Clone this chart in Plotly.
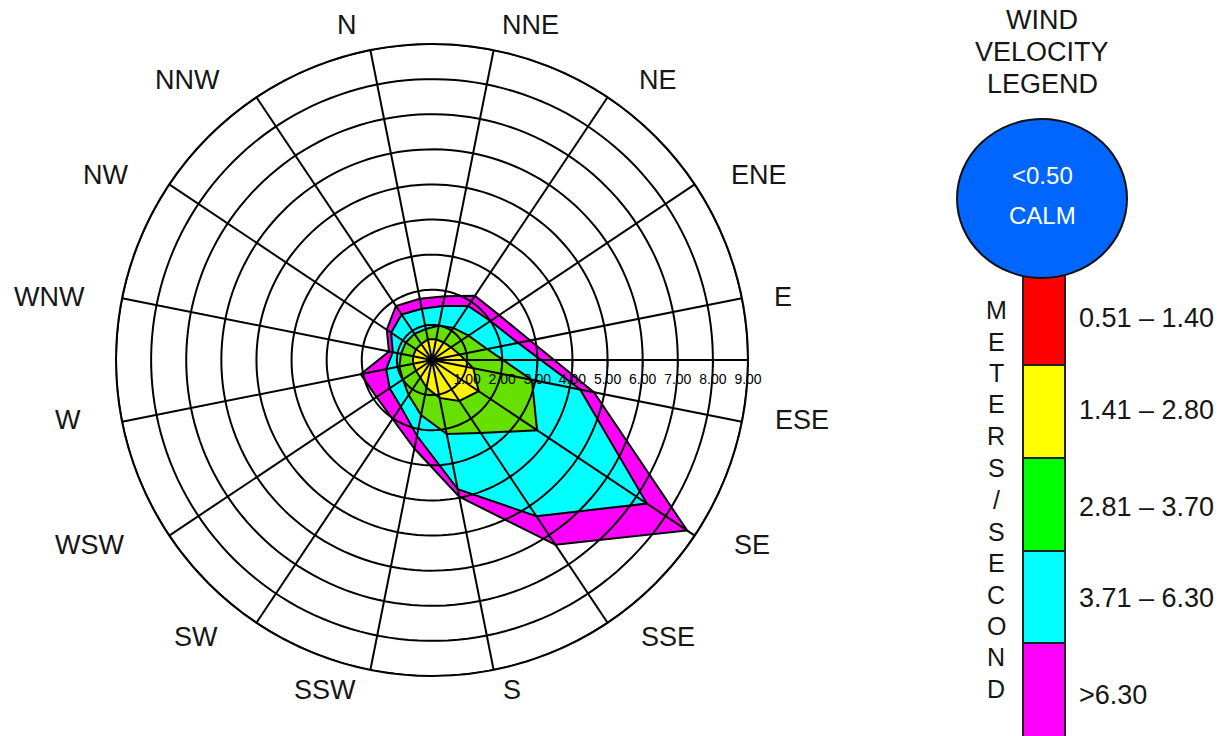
import numpy as np
import plotly.graph_objects as go

W, H = 1226, 736
OFF = 0  # page body margin removed by post_script below

directions = ["N", "NNE", "NE", "ENE", "E", "ESE", "SE", "SSE",
              "S", "SSW", "SW", "WSW", "W", "WNW", "NW", "NNW"]

# frequency (%) of each speed class per direction (stacked)
f_051_140 = [0.10] * 16
f_141_280 = [0.50, 0.50, 0.50, 0.55, 0.70, 1.10, 1.50, 1.30, 1.00, 0.70, 0.50, 0.45, 0.45, 0.45, 0.45, 0.45]
f_281_370 = [0.30, 0.40, 0.50, 0.60, 0.80, 1.70, 2.00, 1.10, 1.05, 0.80, 0.60, 0.45, 0.40, 0.35, 0.35, 0.35]
f_371_630 = [0.59, 0.57, 0.75, 0.75, 0.90, 1.40, 3.76, 2.85, 1.60, 0.60, 0.40, 0.45, 0.38, 0.24, 0.50, 0.66]
f_gt_630 = [0.29, 0.28, 0.35, 0.30, 0.35, 0.40, 1.38, 0.98, 0.22, 0.37, 0.42, 0.45, 0.74, 0.11, 0.15, 0.29]

class_labels = ["0.51 \u2013 1.40", "1.41 \u2013 2.80", "2.81 \u2013 3.70", "3.71 \u2013 6.30", ">6.30"]
legend_colors = ["#FF0000", "#FFFF00", "#00FF00", "#00FFFF", "#FF00FF"]
rose_colors = ["#FF0000", "#FFF200", "#66E000", "#00FFFF", "#FF00FF"]
ring_values = [1, 2, 3, 4, 5, 6, 7, 8, 9]
title_lines = ["WIND", "VELOCITY", "LEGEND"]
calm_lines = ["&lt;0.50", "CALM"]
units_text = "METERS/SECOND"

classes = [f_051_140, f_141_280, f_281_370, f_371_630, f_gt_630]
cum = np.cumsum(np.array(classes), axis=0)
theta_dir = [22.5 * i for i in range(len(directions))]

FONT = "Liberation Sans, Arial, sans-serif"
TXT = "#161616"


def px(x):
    return (x - OFF) / W


def py(y):
    return 1 - (y - OFF) / H


def label(x, y, text, size=27, color=TXT, anchor="center"):
    fig.add_annotation(x=px(x), y=py(y), xref="paper", yref="paper",
                       text=text, showarrow=False, xanchor=anchor, yanchor="middle",
                       font=dict(family=FONT, size=size, color=color))


fig = go.Figure()
# stacked filled polygons, outermost first
for k in range(len(classes) - 1, -1, -1):
    r = list(cum[k]) + [cum[k][0]]
    th = theta_dir + [theta_dir[0]]
    fig.add_trace(go.Scatterpolar(
        r=r, theta=th, mode="lines", fill="toself",
        fillcolor=rose_colors[k], line=dict(color="black", width=2),
        showlegend=False, hoverinfo="skip"))

# grid drawn above the filled areas
ring_theta = list(np.arange(0, 360.1, 2.0))
for rv in ring_values:
    fig.add_trace(go.Scatterpolar(
        r=[rv] * len(ring_theta), theta=ring_theta, mode="lines",
        line=dict(color="black", width=2), showlegend=False, hoverinfo="skip"))
for t in theta_dir:
    fig.add_trace(go.Scatterpolar(
        r=[0, ring_values[-1]], theta=[t, t], mode="lines",
        line=dict(color="black", width=2), showlegend=False, hoverinfo="skip"))

cx, cy, R = 432, 360, 316
fig.update_layout(
    width=W, height=H,
    margin=dict(l=0, r=0, t=0, b=0),
    paper_bgcolor="white",
    plot_bgcolor="white",
    showlegend=False,
    polar=dict(
        domain=dict(x=[px(cx - R), px(cx + R)],
                    y=[py(cy + R), py(cy - R)]),
        bgcolor="white",
        angularaxis=dict(
            type="linear", thetaunit="degrees",
            direction="clockwise", rotation=101.25,
            showticklabels=False, ticks="", showgrid=False,
            showline=True, linecolor="black", linewidth=2,
            layer="above traces"),
        radialaxis=dict(
            range=[0, 9], tickvals=ring_values,
            ticktext=["%.2f" % v for v in ring_values],
            angle=0, tickangle=0, showgrid=False,
            showline=True, linecolor="black", linewidth=2,
            ticks="outside", ticklen=6, tickcolor="black", tickwidth=1.5,
            tickfont=dict(size=14, color="black", family=FONT),
            layer="above traces"),
    ),
)

# direction labels
label_pos = {
    "N": (347, 25), "NNE": (530, 25), "NE": (658, 80), "ENE": (759, 175),
    "E": (783, 297), "ESE": (802, 420), "SE": (752, 545), "SSE": (668, 637),
    "S": (512, 690), "SSW": (325, 690), "SW": (196, 637), "WSW": (89, 545),
    "W": (68, 420), "WNW": (49, 297), "NW": (105, 175), "NNW": (187, 80),
}
for d in directions:
    x, y = label_pos[d]
    label(x, y, d)

# legend title
for line, y in zip(title_lines, [20, 52, 84]):
    label(1042, y, line)

# legend bar
bar_x0, bar_x1 = 1023, 1065
bounds = [270, 365, 458, 551, 643, 760]
label_y = [318, 410, 507, 598, 695]
for i in range(5):
    fig.add_shape(type="rect", xref="paper", yref="paper",
                  x0=px(bar_x0), x1=px(bar_x1),
                  y0=py(bounds[i + 1]), y1=py(bounds[i]),
                  fillcolor=legend_colors[i], line=dict(color="#222", width=2),
                  layer="above")
    label(1077, label_y[i], class_labels[i], anchor="left")

# calm circle
fig.add_shape(type="circle", xref="paper", yref="paper",
              x0=px(957), x1=px(1127), y0=py(278), y1=py(119),
              fillcolor="#0066FF", line=dict(color="#111", width=2), layer="above")
for line, y in zip(calm_lines, [175, 215]):
    label(1042, y, line, size=24, color="white")

# vertical units text
letter_y = [310, 342, 373, 404, 436, 468, 500, 532, 563, 595, 626, 657, 689]
for ch, y in zip(units_text, letter_y):
    label(996, y, ch, size=25)

fig.write_html("out.html",
               config={"displayModeBar": False, "staticPlot": True},
               post_script="document.body.style.margin='0px';"
                           "document.body.style.overflow='hidden';")
